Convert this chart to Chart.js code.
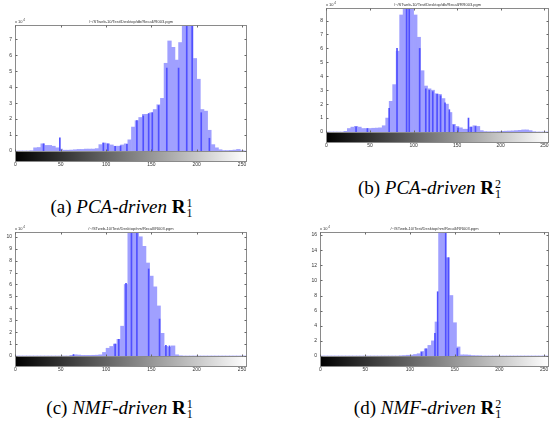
<!DOCTYPE html>
<html>
<head>
<meta charset="utf-8">
<script src="https://cdn.jsdelivr.net/npm/chart.js@4.4.1/dist/chart.umd.min.js"></script>
<style>
  html, body { margin: 0; padding: 0; background: #fff; }
  body { width: 559px; height: 421px; position: relative; overflow: hidden; }
  .panel { position: absolute; }
  .cap { position: absolute; text-align: center; font-family: 'Liberation Serif', 'DejaVu Serif', serif;
         font-size: 19px; line-height: 22px; color: #000; white-space: nowrap; }
  .ss { display: inline-block; position: relative; width: 8px; height: 0; }
  .ss span { position: absolute; left: 1px; font-size: 12px; line-height: 12px; }
  .ss .sup { bottom: 4px; }
  .ss .sub { top: -6px; }
</style>
</head>
<body>
<div class="panel" style="left:0;top:15px;width:260px;height:160px"><canvas id="histA"></canvas></div>
<div class="panel" style="left:290px;top:0;width:269px;height:160px"><canvas id="histB"></canvas></div>
<div class="panel" style="left:0;top:225px;width:260px;height:160px"><canvas id="histC"></canvas></div>
<div class="panel" style="left:290px;top:225px;width:269px;height:160px"><canvas id="histD"></canvas></div>

<div class="cap" style="left:22px;top:196px;width:200px">(a) <i>PCA-driven</i> <b>R</b><span class="ss"><span class="sup">1</span><span class="sub">1</span></span></div>
<div class="cap" style="left:330px;top:177px;width:200px">(b) <i>PCA-driven</i> <b>R</b><span class="ss"><span class="sup">2</span><span class="sub">1</span></span></div>
<div class="cap" style="left:20px;top:397px;width:200px">(c) <i>NMF-driven</i> <b>R</b><span class="ss"><span class="sup">1</span><span class="sub">1</span></span></div>
<div class="cap" style="left:328px;top:397px;width:200px">(d) <i>NMF-driven</i> <b>R</b><span class="ss"><span class="sup">2</span><span class="sub">1</span></span></div>

<script>
// gray level bins (4 levels wide), counts in units of 10^4
const binCenters = [2, 6, 10, 14, 18, 22, 26, 30, 34, 38, 42, 46, 50, 54, 58, 62,
    66, 70, 74, 78, 82, 86, 90, 94, 98, 102, 106, 110, 114, 118, 122, 126,
    130, 134, 138, 142, 146, 150, 154, 158, 162, 166, 170, 174, 178, 182, 186, 190,
    194, 198, 202, 206, 210, 214, 218, 222, 226, 230, 234, 238, 242, 246, 250, 254];
const xTickValues = [0, 50, 100, 150, 200, 250];

const pcaR1 = [0, 0, 0, 0, 0.02, 0.2, 0.22, 0.45,
    0.35, 0.35, 0.3, 0.2, 0.12, 0.05, 0.05, 0.06,
    0.08, 0.1, 0.1, 0.12, 0.12, 0.12, 0.15, 0.4,
    0.5, 0.45, 0.38, 0.3, 0.3, 0.38, 0.45, 0.7,
    1.5, 1.9, 2.1, 2.3, 2.3, 2.4, 2.6, 2.9,
    3.3, 5.5, 6.9, 6.5, 5.7, 6.8, 8.5, 8.5,
    8.5, 5.8, 4.5, 2.6, 2.5, 1.3, 0.4, 0.2,
    0.08, 0.03, 0.03, 0.04, 0.06, 0.1, 0.02, 0];
const pcaR2 = [0, 0, 0, 0, 0, 0.05, 0.25, 0.35,
    0.4, 0.35, 0.25, 0.25, 0.25, 0.27, 0.28, 0.3,
    0.45, 1.0, 2.2, 3.4, 5.8, 8.4, 9.5, 9.5,
    9.5, 8.4, 6.8, 4.4, 3.3, 3.1, 3.0, 2.75,
    2.7, 2.4, 2.0, 1.4, 0.55, 0.4, 0.3, 0.2,
    0.2, 0.35, 0.45, 0.4, 0.1, 0.03, 0.02, 0.02,
    0.02, 0.03, 0.05, 0.06, 0.07, 0.08, 0.1, 0.12,
    0.15, 0.15, 0.1, 0.02, 0, 0, 0, 0];
const nmfR1 = [0, 0, 0, 0, 0, 0, 0, 0,
    0, 0, 0, 0, 0, 0, 0, 0.05,
    0.1, 0.08, 0.05, 0.05, 0.05, 0.06, 0.07, 0.1,
    0.3, 0.65, 0.8, 1.0, 1.4, 2.5, 6.0, 11,
    11, 11, 10, 9.2, 7.8, 6.7, 5.8, 4.2,
    1.9, 0.8, 0.75, 0.85, 0.1, 0.02, 0, 0,
    0, 0, 0, 0, 0, 0, 0, 0,
    0, 0, 0, 0, 0, 0, 0, 0];
const nmfR2 = [0, 0, 0, 0, 0, 0, 0, 0,
    0, 0, 0, 0, 0, 0, 0, 0,
    0, 0, 0, 0, 0, 0, 0.03, 0.06,
    0.1, 0.12, 0.2, 0.3, 0.6, 0.95, 1.4, 2.0,
    4.5, 17, 17, 13, 8.0, 4.4, 1.2, 0.15,
    0.15, 0.12, 0.06, 0.04, 0.03, 0, 0, 0,
    0, 0, 0, 0, 0, 0, 0, 0,
    0, 0, 0, 0, 0, 0, 0, 0];

// single gray levels that render as darker lines
const darkXA = [31, 49, 97, 102, 110, 116, 123, 134, 141, 147, 151, 158, 167, 180, 189, 195, 205, 214];
const darkYA = [0.45, 0.83, 0.5, 0.45, 0.3, 0.32, 0.42, 1.9, 2.2, 2.35, 2.4, 2.85, 5.2, 5.2, 8.5, 8.5, 2.4, 0.8];
const darkXB = [34, 47, 72, 81, 92, 95, 107, 114, 118, 122, 127, 131, 136, 141, 146, 151, 163, 166, 171];
const darkYB = [0.38, 0.25, 1.7, 6.0, 9.5, 9.5, 6.0, 3.1, 3.0, 2.9, 2.7, 2.6, 2.1, 1.6, 0.5, 0.3, 1.0, 0.35, 0.4];
const darkXC = [64, 110, 114, 122, 128, 134, 147, 159, 166, 170];
const darkYC = [0.12, 1.0, 1.4, 6.1, 11, 11, 7.3, 3.1, 0.9, 0.85];
const darkXD = [113, 118, 128, 131, 140, 143, 153];
const darkYD = [0.5, 0.95, 3.0, 8.5, 17, 13, 1.0];

const yTicksA = [0, 1, 2, 3, 4, 5, 6, 7];
const yTicksB = [0, 1, 2, 3, 4, 5, 6, 7, 8];
const yTicksC = [0, 1, 2, 3, 4, 5, 6, 7, 8, 9, 10];
const yTicksD = [0, 2, 4, 6, 8, 10, 12, 14, 16];

const barColor = 'rgb(160,160,255)';
const lineColor = 'rgb(80,80,255)';
const frameColor = '#8a8a8a';
const tickFont = { family: 'Liberation Sans', size: 5 };

// frame, inward ticks, gray ramp under the axis, file name and exponent
const framePlugin = {
    id: 'frame',
    afterDraw(chart, args, opts) {
        const { ctx, chartArea: a } = chart;
        const x = chart.scales.x, y = chart.scales.y;
        const L = Math.round(a.left) + 0.5, R = Math.round(a.right) - 0.5;
        const T = Math.round(a.top) + 0.5, B = Math.round(a.bottom) + 0.5;
        ctx.save();

        const grad = ctx.createLinearGradient(x.getPixelForValue(0), 0, x.getPixelForValue(255), 0);
        grad.addColorStop(0, '#000');
        grad.addColorStop(1, '#fff');
        ctx.fillStyle = grad;
        ctx.fillRect(L, B, R - L, 10);

        ctx.strokeStyle = frameColor;
        ctx.lineWidth = 1;
        ctx.strokeRect(L, T, R - L, B - T);
        ctx.strokeRect(L, B, R - L, 10);

        ctx.strokeStyle = '#666';
        ctx.beginPath();
        xTickValues.forEach(v => {
            const px = Math.round(x.getPixelForValue(v)) + 0.5;
            ctx.moveTo(px, T); ctx.lineTo(px, T + 2);
            ctx.moveTo(px, B); ctx.lineTo(px, B - 2);
        });
        y.ticks.forEach(t => {
            const py = Math.round(y.getPixelForValue(t.value)) + 0.5;
            ctx.moveTo(L, py); ctx.lineTo(L + 2, py);
            ctx.moveTo(R, py); ctx.lineTo(R - 2, py);
        });
        ctx.stroke();

        ctx.fillStyle = '#333';
        ctx.textBaseline = 'bottom';
        ctx.textAlign = 'center';
        ctx.font = '4px "Liberation Sans"';
        ctx.fillText(opts.title, (a.left + a.right) / 2, a.top - 1);
        ctx.textAlign = 'left';
        ctx.fillText('x 10', a.left, a.top - 1);
        ctx.font = '3px "Liberation Sans"';
        ctx.fillText('4', a.left + ctx.measureText('x 10').width * 1.35 + 0.5, a.top - 3);
        ctx.restore();
    }
};

function drawHist(id, values, darkX, darkY, yMax, yTicks, yAxisWidth, pad, title) {
    return new Chart(document.getElementById(id), {
        type: 'bar',
        data: {
            datasets: [{
                // first dataset is painted last, so the dark lines sit on top
                data: darkX.map((c, i) => ({ x: c, y: darkY[i] })),
                xAxisID: 'x2',
                backgroundColor: lineColor,
                borderWidth: 0,
                barThickness: 1,
                grouped: false,
                clip: 0
            }, {
                data: binCenters.map((c, i) => ({ x: c, y: values[i] })),
                backgroundColor: barColor,
                borderWidth: 0,
                barPercentage: 1,
                categoryPercentage: 1,
                grouped: false,
                clip: 0
            }]
        },
        options: {
            responsive: true,
            maintainAspectRatio: false,
            animation: false,
            devicePixelRatio: 1,
            layout: { padding: pad },
            plugins: {
                legend: { display: false },
                tooltip: { enabled: false },
                frame: { title: title }
            },
            scales: {
                x: {
                    type: 'linear', min: -0.5, max: 255.5, offset: false,
                    grid: { display: false, drawTicks: false },
                    border: { display: false },
                    afterBuildTicks: s => { s.ticks = xTickValues.map(v => ({ value: v })); },
                    afterFit: s => { s.height = 17; },
                    ticks: { padding: 10.5, font: tickFont, color: '#333', autoSkip: false, maxRotation: 0 }
                },
                x2: {
                    type: 'linear', min: -0.5, max: 255.5, offset: false, display: false
                },
                y: {
                    min: 0, max: yMax,
                    grid: { display: false, drawTicks: false },
                    border: { display: false },
                    afterBuildTicks: s => { s.ticks = yTicks.map(v => ({ value: v })); },
                    afterFit: s => { s.width = yAxisWidth; },
                    ticks: { padding: 3, font: tickFont, color: '#333' }
                }
            }
        },
        plugins: [framePlugin]
    });
}

drawHist('histA', pcaR1, darkXA, darkYA, 7.9, yTicksA, 15,
    { left: 0, right: 13, top: 10, bottom: 7 }, '/~/STweb-10/Test/Desktop/db/Recall/R003.pgm');
drawHist('histB', pcaR2, darkXB, darkYB, 8.9, yTicksB, 36,
    { left: 0, right: 1, top: 8, bottom: 11 }, '/~/STweb-10/Test/Desktop/db/Recall/RR003.pgm');
drawHist('histC', nmfR1, darkXC, darkYC, 10.4, yTicksC, 15,
    { left: 0, right: 13, top: 7, bottom: 12 }, '/~/STweb-10/Test/Desktop/nm/Recall/R003.pgm');
drawHist('histD', nmfR2, darkXD, darkYD, 16.4, yTicksD, 30,
    { left: 0, right: 7, top: 7, bottom: 12 }, '/~/STweb-10/Test/Desktop/nm/Recall/RR003.pgm');
</script>
</body>
</html>
